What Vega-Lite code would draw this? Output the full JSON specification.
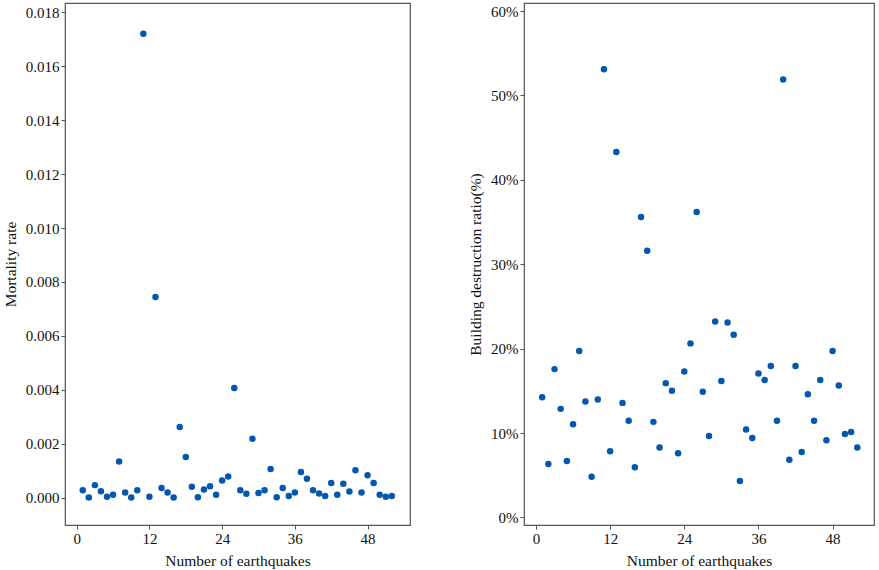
{
  "$schema": "https://vega.github.io/schema/vega-lite/v6.json",
  "padding": {"left": 2, "top": 2, "right": 1, "bottom": 0},
  "data": {
    "values": [
      {"n": 1, "mortality": 0.00027, "ratio": 0.1426},
      {"n": 2, "mortality": 0.0, "ratio": 0.0634},
      {"n": 3, "mortality": 0.00046, "ratio": 0.1758},
      {"n": 4, "mortality": 0.00023, "ratio": 0.1287},
      {"n": 5, "mortality": 0.00003, "ratio": 0.0669},
      {"n": 6, "mortality": 0.0001, "ratio": 0.1105},
      {"n": 7, "mortality": 0.00134, "ratio": 0.1972},
      {"n": 8, "mortality": 0.00019, "ratio": 0.1374},
      {"n": 9, "mortality": 0.0, "ratio": 0.0483},
      {"n": 10, "mortality": 0.00027, "ratio": 0.1398},
      {"n": 11, "mortality": 0.01721, "ratio": 0.531},
      {"n": 12, "mortality": 0.00003, "ratio": 0.0784},
      {"n": 13, "mortality": 0.00744, "ratio": 0.433},
      {"n": 14, "mortality": 0.00035, "ratio": 0.1358},
      {"n": 15, "mortality": 0.00019, "ratio": 0.1145},
      {"n": 16, "mortality": 0.0, "ratio": 0.0594},
      {"n": 17, "mortality": 0.00262, "ratio": 0.356},
      {"n": 18, "mortality": 0.0015, "ratio": 0.316},
      {"n": 19, "mortality": 0.0004, "ratio": 0.1133},
      {"n": 20, "mortality": 0.00001, "ratio": 0.0828},
      {"n": 21, "mortality": 0.0003, "ratio": 0.1592},
      {"n": 22, "mortality": 0.00042, "ratio": 0.1501},
      {"n": 23, "mortality": 0.0001, "ratio": 0.076},
      {"n": 24, "mortality": 0.00063, "ratio": 0.1731},
      {"n": 25, "mortality": 0.00078, "ratio": 0.2063},
      {"n": 26, "mortality": 0.00406, "ratio": 0.362},
      {"n": 27, "mortality": 0.00027, "ratio": 0.1489},
      {"n": 28, "mortality": 0.00014, "ratio": 0.0966},
      {"n": 29, "mortality": 0.00218, "ratio": 0.2321},
      {"n": 30, "mortality": 0.00017, "ratio": 0.1616},
      {"n": 31, "mortality": 0.00027, "ratio": 0.2309},
      {"n": 32, "mortality": 0.00106, "ratio": 0.2166},
      {"n": 33, "mortality": 0.00001, "ratio": 0.0432},
      {"n": 34, "mortality": 0.00035, "ratio": 0.1042},
      {"n": 35, "mortality": 0.00006, "ratio": 0.0943},
      {"n": 36, "mortality": 0.00019, "ratio": 0.1707},
      {"n": 37, "mortality": 0.00095, "ratio": 0.1628},
      {"n": 38, "mortality": 0.0007, "ratio": 0.1794},
      {"n": 39, "mortality": 0.00027, "ratio": 0.1145},
      {"n": 40, "mortality": 0.00015, "ratio": 0.519},
      {"n": 41, "mortality": 0.00006, "ratio": 0.0685},
      {"n": 42, "mortality": 0.00054, "ratio": 0.1794},
      {"n": 43, "mortality": 0.0001, "ratio": 0.0776},
      {"n": 44, "mortality": 0.00051, "ratio": 0.1461},
      {"n": 45, "mortality": 0.00022, "ratio": 0.1145},
      {"n": 46, "mortality": 0.00101, "ratio": 0.1628},
      {"n": 47, "mortality": 0.00019, "ratio": 0.0915},
      {"n": 48, "mortality": 0.00083, "ratio": 0.1972},
      {"n": 49, "mortality": 0.00054, "ratio": 0.1564},
      {"n": 50, "mortality": 0.0001, "ratio": 0.099},
      {"n": 51, "mortality": 0.00003, "ratio": 0.1014},
      {"n": 52, "mortality": 0.00006, "ratio": 0.0828}
    ]
  },
  "spacing": 56,
  "hconcat": [
    {
      "width": 345,
      "height": 522,
      "mark": {"type": "circle", "size": 42, "opacity": 1, "color": "#0457b0"},
      "encoding": {
        "x": {
          "field": "n",
          "type": "quantitative",
          "title": "Number of earthquakes",
          "scale": {"domain": [-1.93, 55.0], "nice": false, "zero": false},
          "axis": {"values": [0, 12, 24, 36, 48]}
        },
        "y": {
          "field": "mortality",
          "type": "quantitative",
          "title": "Mortality rate",
          "scale": {"domain": [-0.00102, 0.01835], "nice": false, "zero": false},
          "axis": {
            "values": [0, 0.002, 0.004, 0.006, 0.008, 0.01, 0.012, 0.014, 0.016, 0.018],
            "format": ".3f"
          }
        }
      }
    },
    {
      "width": 350,
      "height": 522,
      "mark": {"type": "circle", "size": 42, "opacity": 1, "color": "#0457b0"},
      "encoding": {
        "x": {
          "field": "n",
          "type": "quantitative",
          "title": "Number of earthquakes",
          "scale": {"domain": [-1.94, 54.7], "nice": false, "zero": false},
          "axis": {"values": [0, 12, 24, 36, 48]}
        },
        "y": {
          "field": "ratio",
          "type": "quantitative",
          "title": "Building destruction ratio(%)",
          "scale": {"domain": [-0.0089, 0.6096], "nice": false, "zero": false},
          "axis": {
            "values": [0, 0.1, 0.2, 0.3, 0.4, 0.5, 0.6],
            "format": ".0%"
          }
        }
      }
    }
  ],
  "config": {
    "font": "Liberation Serif",
    "view": {"stroke": "#555555", "strokeWidth": 1.2},
    "axis": {
      "domain": false,
      "grid": false,
      "ticks": true,
      "tickSize": 4,
      "tickColor": "#555555",
      "labelFont": "Liberation Serif",
      "labelFontSize": 15,
      "labelColor": "#111111",
      "labelPadding": 2,
      "titleFont": "Liberation Serif",
      "titleFontSize": 15.5,
      "titleFontWeight": "normal",
      "titleColor": "#111111"
    },
    "axisX": {"titlePadding": 7},
    "axisY": {"titlePadding": 7}
  }
}
